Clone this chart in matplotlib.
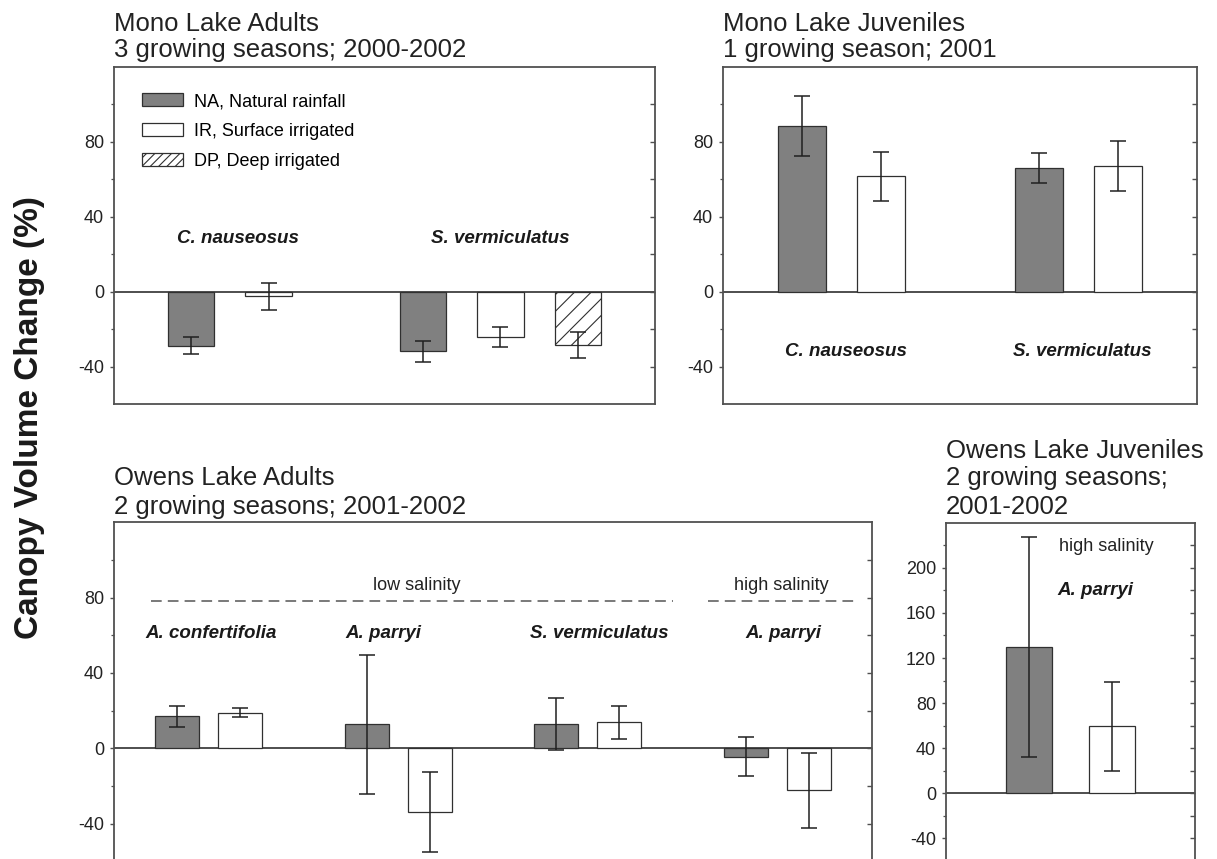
import numpy as np
import matplotlib
matplotlib.use("Agg")
import matplotlib.pyplot as plt
from matplotlib.patches import Patch

plt.rcParams['font.family'] = ['Liberation Sans', 'DejaVu Sans']
plt.rcParams['hatch.linewidth'] = 0.8
plt.rcParams['axes.unicode_minus'] = False

# ---------------- data ----------------
# Mono Lake Adults
ml_adult_species = ["C. nauseosus", "S. vermiculatus"]
ml_adult_na = [-28.8, -31.6]
ml_adult_na_err = [4.6, 5.6]
ml_adult_ir = [-2.3, -24.2]
ml_adult_ir_err = [7.2, 5.2]
ml_adult_dp = [np.nan, -28.5]
ml_adult_dp_err = [np.nan, 7.0]

# Mono Lake Juveniles
ml_juv_species = ["C. nauseosus", "S. vermiculatus"]
ml_juv_na = [88.3, 65.9]
ml_juv_na_err = [15.9, 8.1]
ml_juv_ir = [61.5, 67.1]
ml_juv_ir_err = [13.2, 13.4]

# Owens Lake Adults
ol_adult_species = ["A. confertifolia", "A. parryi", "S. vermiculatus", "A. parryi"]
ol_adult_na = [17.0, 12.7, 12.9, -4.4]
ol_adult_na_err = [5.7, 37.1, 13.8, 10.5]
ol_adult_ir = [18.8, -33.9, 13.7, -22.3]
ol_adult_ir_err = [2.4, 21.3, 8.9, 20.0]

# Owens Lake Juveniles
ol_juv_species = ["A. parryi"]
ol_juv_na = [129.5]
ol_juv_na_err = [97.4]
ol_juv_ir = [59.3]
ol_juv_ir_err = [39.4]

legend_labels = ["NA, Natural rainfall", "IR, Surface irrigated", "DP, Deep irrigated"]

# ---------------- style ----------------
W, H = 1217, 859
NA_COLOR = '#808080'
EDGE = '#303030'
SPINE = '#505050'
ERR = '#202020'
FS = 13

fig = plt.figure(figsize=(W / 100, H / 100), dpi=100)


def rect(x0, x1, ytop, ybot):
    return [x0 / W, 1 - ybot / H, (x1 - x0) / W, (ybot - ytop) / H]


def style_axes(ax, ylim, major, minor, right_ticks):
    ax.set_ylim(*ylim)
    ax.set_yticks(major)
    ax.set_yticks(minor, minor=True)
    ax.set_xticks([])
    ax.tick_params(axis='y', which='major', direction='out', length=3.2, width=1.0,
                   color=SPINE, labelsize=FS, pad=4, labelcolor='#222222')
    ax.tick_params(axis='y', which='minor', direction='out', length=2.0, width=0.9, color=SPINE)
    for s in ax.spines.values():
        s.set_color(SPINE)
        s.set_linewidth(1.3)
    ax.axhline(0, color='#303030', lw=1.2, zorder=1)
    tw = ax.twinx()
    tw.set_ylim(*ylim)
    tw.set_yticks(right_ticks)
    tw.tick_params(axis='y', direction='in', length=3.6, width=1.0, color=SPINE, labelright=False)
    for s in tw.spines.values():
        s.set_visible(False)
    return tw


def draw_bars(ax, xs, vals, errs, width, face, hatch=None):
    xs = np.asarray(xs, float)
    vals = np.asarray(vals, float)
    errs = np.asarray(errs, float)
    m = ~np.isnan(vals)
    ax.bar(xs[m], vals[m], width=width, color=face, edgecolor=EDGE, linewidth=0.9,
           hatch=hatch, zorder=2)
    ax.errorbar(xs[m], vals[m], yerr=errs[m], fmt='none', ecolor=ERR, elinewidth=1.1,
                capsize=5.5, capthick=1.1, zorder=3)


def title(x, ybases, lines):
    for yb, t in zip(ybases, lines):
        fig.text(x / W, 1 - yb / H, t, fontsize=18.5, va='baseline', ha='left', color='#222222')


lab_kw = dict(fontsize=13.5, fontweight='bold', fontstyle='italic', ha='center', va='center',
              color='#1a1a1a')

# ---------- Mono Lake Adults ----------
ax1 = fig.add_axes(rect(114, 655, 66.7, 404.3))
base = 3 * np.arange(len(ml_adult_species))
draw_bars(ax1, base, ml_adult_na, ml_adult_na_err, 0.6, NA_COLOR)
draw_bars(ax1, base + 1, ml_adult_ir, ml_adult_ir_err, 0.6, 'white')
draw_bars(ax1, base + 2, ml_adult_dp, ml_adult_dp_err, 0.6, 'white', hatch='//')
ax1.set_xlim(-1, 6)
style_axes(ax1, (-60, 120), [-40, 0, 40, 80], [-20, 20, 60, 100], np.arange(-40, 120, 20))
ax1.text(0.6, 28.2, ml_adult_species[0], **lab_kw)
ax1.text(4.0, 28.2, ml_adult_species[1], **lab_kw)
handles = [Patch(facecolor=NA_COLOR, edgecolor=EDGE, linewidth=0.9),
           Patch(facecolor='white', edgecolor=EDGE, linewidth=0.9),
           Patch(facecolor='white', edgecolor=EDGE, linewidth=0.9, hatch='////')]
ax1.legend(handles, legend_labels, loc='upper left', bbox_to_anchor=(0.052, 0.922),
           frameon=False, fontsize=FS, handlelength=2.25, handleheight=0.72,
           handletextpad=0.6, labelspacing=0.72, borderpad=0, borderaxespad=0)
title(114, [30.7, 57.3], ["Mono Lake Adults", "3 growing seasons; 2000-2002"])

# ---------- Mono Lake Juveniles ----------
ax2 = fig.add_axes(rect(723, 1197, 66.7, 404.3))
base = 3 * np.arange(len(ml_juv_species))
draw_bars(ax2, base, ml_juv_na, ml_juv_na_err, 0.6, NA_COLOR)
draw_bars(ax2, base + 1, ml_juv_ir, ml_juv_ir_err, 0.6, 'white')
ax2.set_xlim(-1, 5)
style_axes(ax2, (-60, 120), [-40, 0, 40, 80], [-20, 20, 60, 100], np.arange(-40, 120, 20))
ax2.text(0.55, -31.6, ml_juv_species[0], **lab_kw)
ax2.text(3.55, -31.6, ml_juv_species[1], **lab_kw)
title(723, [30.7, 57.3], ["Mono Lake Juveniles", "1 growing season; 2001"])

# ---------- Owens Lake Adults ----------
ax3 = fig.add_axes(rect(114, 872, 522.3, 861.3))
base = 3 * np.arange(len(ol_adult_species))
draw_bars(ax3, base, ol_adult_na, ol_adult_na_err, 0.7, NA_COLOR)
draw_bars(ax3, base + 1, ol_adult_ir, ol_adult_ir_err, 0.7, 'white')
ax3.set_xlim(-1, 11)
style_axes(ax3, (-60, 120), [-40, 0, 40, 80], [-20, 20, 60, 100], np.arange(-40, 120, 20))
for xc, name in zip([0.54, 3.27, 6.68, 9.6], ol_adult_species):
    ax3.text(xc, 61.2, name, **lab_kw)
ax3.plot([-0.42, 7.85], [78, 78], ls=(0, (7, 4)), color='#555555', lw=1.1, zorder=1)
ax3.plot([8.4, 10.77], [78, 78], ls=(0, (7, 4)), color='#555555', lw=1.1, zorder=1)
ax3.text(3.8, 86.4, "low salinity", fontsize=FS, ha='center', va='center', color='#222222')
ax3.text(9.56, 86.2, "high salinity", fontsize=FS, ha='center', va='center', color='#222222')
title(114, [485, 514], ["Owens Lake Adults", "2 growing seasons; 2001-2002"])

# ---------- Owens Lake Juveniles ----------
ax4 = fig.add_axes(rect(946, 1195, 522.7, 861))
draw_bars(ax4, [0], ol_juv_na, ol_juv_na_err, 0.56, NA_COLOR)
draw_bars(ax4, [1], ol_juv_ir, ol_juv_ir_err, 0.56, 'white')
ax4.set_xlim(-1, 2)
style_axes(ax4, (-60, 240), [-40, 0, 40, 80, 120, 160, 200],
           [-20, 20, 60, 100, 140, 180, 220], np.arange(-40, 240, 20))
ax4.text(0.93, 219, "high salinity", fontsize=FS, ha='center', va='center', color='#222222')
ax4.text(0.80, 180, ol_juv_species[0], **lab_kw)
title(946, [458, 485, 514], ["Owens Lake Juveniles", "2 growing seasons;", "2001-2002"])

# ---------- shared y label ----------
fig.text(30 / W, 1 - 418 / H, "Canopy Volume Change (%)", rotation=90, fontsize=24,
         fontweight='bold', ha='center', va='center', color='#1a1a1a')

fig.savefig("out.png", dpi=100)
